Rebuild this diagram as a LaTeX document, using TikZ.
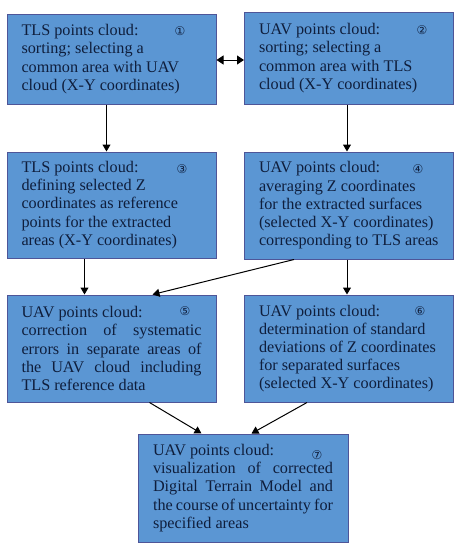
\documentclass[tikz,border=0pt]{standalone}
\usepackage{fontspec}
\setmainfont{Liberation Serif}
\newfontfamily\serfont{Liberation Serif}
\newfontfamily\circfont{DejaVu Sans}
\usetikzlibrary{arrows.meta}
\hyphenpenalty=10000
\exhyphenpenalty=10000
\definecolor{boxfill}{HTML}{5B96D3}
\definecolor{boxline}{HTML}{4E5598}
\definecolor{boxtext}{HTML}{0F1E3C}
\newcommand{\jl}[1]{\hbox to \linewidth{#1}}
\tikzset{
  box/.style={draw=boxline, line width=1pt, fill=boxfill, text=boxtext,
    minimum width=209pt, inner sep=0pt, text width=180pt, align=flush left,
    font=\serfont\fontsize{16.2}{18.2}\selectfont},
  num/.style={text=boxtext, font=\circfont\fontsize{12}{12}\selectfont, inner sep=0pt},
  arr/.style={line width=1pt, -{Triangle[length=7pt,width=8pt]}},
  darr/.style={line width=1pt, {Triangle[length=7pt,width=9pt]}-{Triangle[length=7pt,width=9pt]}}
}
\begin{document}
\begin{tikzpicture}[x=1pt,y=-1pt]
\useasboundingbox (0,0) rectangle (461,550);
\node[box, minimum height=90pt] (b1) at (111.5,59) {TLS points cloud:\\sorting; selecting a\\common area with UAV\\cloud (X-Y coordinates)};
\node[box, minimum height=92pt] (b2) at (349,58) {UAV points cloud:\\sorting; selecting a\\common area with TLS\\cloud (X-Y coordinates)};
\node[box, minimum height=106pt] (b3) at (111.5,205) {TLS points cloud:\\defining selected Z\\coordinates as reference\\points for the extracted\\areas (X-Y coordinates)};
\node[box, minimum height=107pt] (b4) at (349,205.5) {UAV points cloud:\\averaging Z coordinates\\for the extracted surfaces\\(selected X-Y coordinates)\\corresponding to TLS areas};
\node[box, minimum height=107pt] (b5) at (111.5,348.5) {UAV points cloud:\\\jl{correction of systematic}\jl{errors in separate areas of}\jl{the UAV cloud including}TLS reference data};
\node[box, minimum height=107pt] (b6) at (349,348.5) {UAV points cloud:\\determination of standard\\deviations of Z coordinates\\for separated surfaces\\(selected X-Y coordinates)};
\node[box, minimum height=108pt, minimum width=210pt] (b7) at (243,488) {UAV points cloud:\\\jl{visualization of corrected}\jl{Digital Terrain Model and}\jl{the course of uncertainty for}specified areas};
\node[num] (n1) at (180,31) {①};
\node[num] (n2) at (422,30) {②};
\node[num] (n3) at (182,169) {③};
\node[num] (n4) at (418,169) {④};
\node[num] (n5) at (185,311) {⑤};
\node[num] (n6) at (420,311) {⑥};
\node[num] (n7) at (317,455) {⑦};
\draw[darr] ([yshift=-1pt]b1.east) -- ([yshift=-1pt]b1.east -| b2.west);
\draw[arr] ([xshift=-5pt]b1.south) -- ([xshift=-5pt]b1.south |- b3.north);
\draw[arr] ([xshift=-2pt]b2.south) -- ([xshift=-2pt]b2.south |- b4.north);
\draw[arr] ([xshift=78pt]b3.south west) -- ([xshift=78pt]b3.south west |- b5.north);
\draw[arr] ([xshift=50pt]b4.south west) -- ([xshift=146pt]b5.north west);
\draw[arr] ([xshift=-2pt]b4.south) -- ([xshift=-2pt]b4.south |- b6.north);
\draw[arr] ([xshift=143pt]b5.south west) -- ([xshift=64pt]b7.north west);
\draw[arr] ([xshift=63pt]b6.south west) -- ([xshift=114pt]b7.north west);
\end{tikzpicture}
\end{document}
